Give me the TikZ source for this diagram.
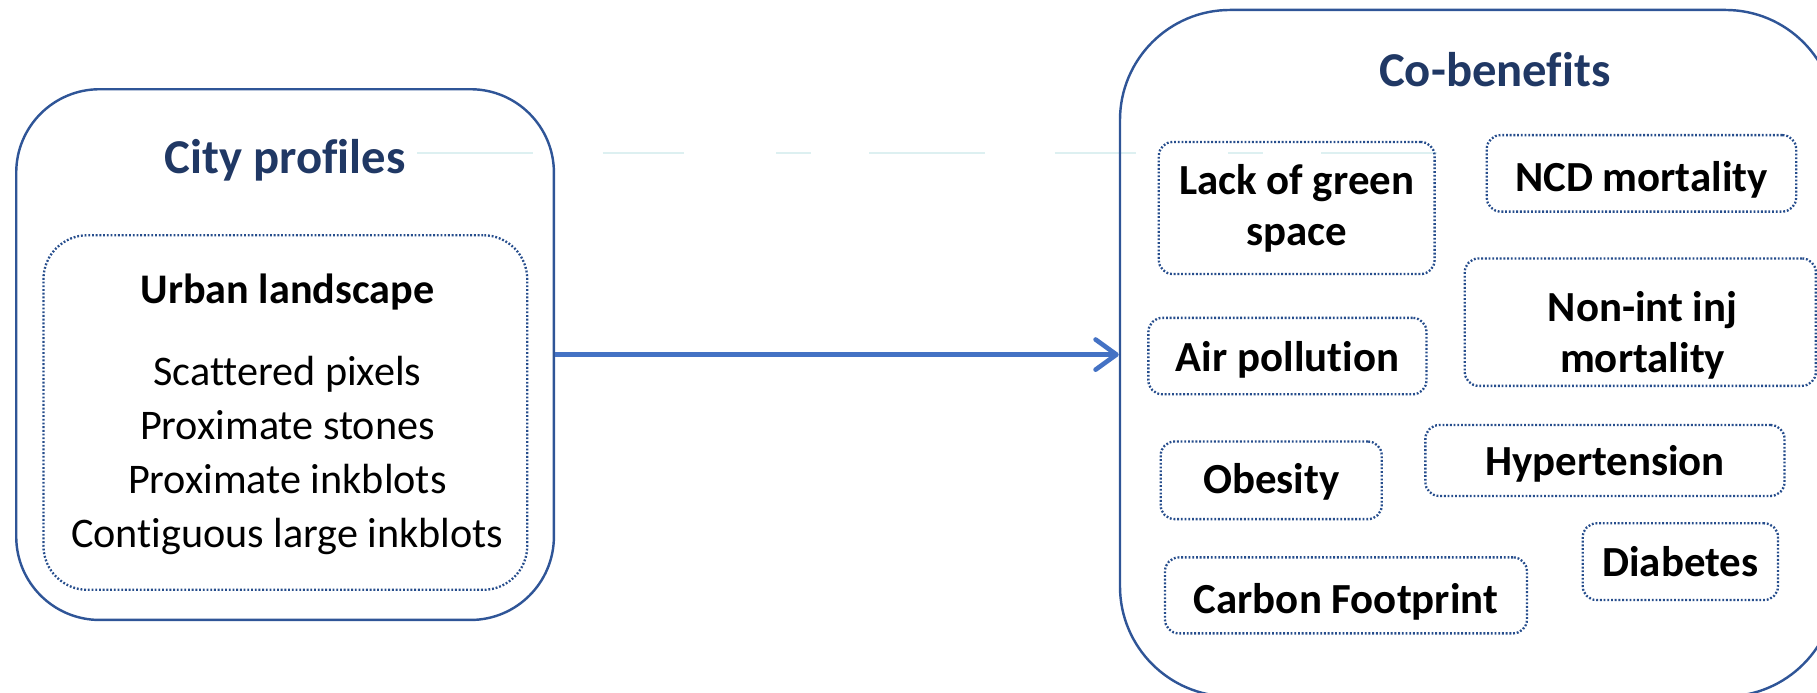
\documentclass[tikz,border=0pt]{standalone}
\usepackage{fontspec}
\setmainfont{Carlito}[Ligatures={NoCommon,NoContextual}]
\usetikzlibrary{arrows.meta}
\definecolor{boxblue}{HTML}{2F5597}
\definecolor{dotblue}{HTML}{264D8C}
\definecolor{navy}{HTML}{203864}
\definecolor{arrowblue}{HTML}{4472C4}
\definecolor{faint}{HTML}{DDF0F1}
\tikzset{
  outerbox/.style={draw=boxblue, line width=1.05pt, inner sep=0pt},
  dotbox/.style={draw=dotblue, line width=1pt, dash pattern=on 0.8pt off 0.8pt,
    rounded corners=6pt, inner sep=0pt, align=center,
    font=\fontsize{18.5}{22}\selectfont\bfseries},
  oneline/.style={text depth=0pt, text height=#1},
  itemtext/.style={align=center, font=\fontsize{18.5}{22}\selectfont\bfseries},
  titletext/.style={text=navy, font=\fontsize{21}{25}\selectfont\bfseries},
  flow/.style={draw=arrowblue, line width=2pt, -{Straight Barb[length=9pt,width=13pt,round]}},
}
\begin{document}
\begin{tikzpicture}[x=0.5pt,y=-0.5pt]
\useasboundingbox (0,0) rectangle (1568,598);
% faint artifact line
\draw[faint, line width=0.6pt, dash pattern=on 50pt off 30pt on 35pt off 40pt on 15pt off 25pt]
  (360,132) -- (1254,132);
% left block
\node[outerbox, rounded corners=36pt, minimum width=232pt, minimum height=229pt] (left) at (246,306) {};
\node[titletext] (cityt) at (246,138) {City profiles};
\node[dotbox, rounded corners=19pt, minimum width=208.75pt, minimum height=153pt] (urban) at (246.25,356) {};
\node[font=\fontsize{18.2}{22}\selectfont\bfseries] (urbant) at (248,252) {Urban landscape};
\node[align=center, font=\fontsize{18.2}{23.3}\selectfont] (list) at (248,393)
  {Scattered pixels\\Proximate stones\\Proximate inkblots\\Contiguous large inkblots};
% right block
\node[outerbox, rounded corners=47.5pt, minimum width=308.75pt, minimum height=296.2pt] (right) at (1275.25,304.8) {};
\node[titletext] (cobt) at (1290,60) {Co-benefits};
\node[dotbox, minimum width=119pt, minimum height=57pt] (green) at (1119,179.5) {Lack of green\\space};
\node[dotbox, oneline=16pt, minimum width=133.5pt, minimum height=33pt] (ncd) at (1416.5,149.6) {NCD mortality};
\node[dotbox, minimum width=151.5pt, minimum height=55pt] (nonint) at (1415.5,278) {};
\node[itemtext] (nonintt) at (1417.5,289) {Non-int inj\\mortality};
\node[dotbox, oneline=13.4pt, minimum width=120pt, minimum height=33pt] (air) at (1111,307.3) {Air pollution};
\node[dotbox, oneline=11.8pt, minimum width=95.4pt, minimum height=33.5pt] (obesity) at (1097,414.5) {Obesity};
\node[dotbox, oneline=12.7pt, minimum width=155pt, minimum height=30.6pt] (hyper) at (1385,397.4) {Hypertension};
\node[dotbox, oneline=13pt, minimum width=84.3pt, minimum height=33.1pt] (diab) at (1450.1,484.7) {Diabetes};
\node[dotbox, oneline=15.7pt, minimum width=156.2pt, minimum height=32.8pt] (carbon) at (1161.5,513.8) {Carbon Footprint};
% connector
\draw[flow] (left.east) -- (left.east -| right.west);
\end{tikzpicture}
\end{document}
